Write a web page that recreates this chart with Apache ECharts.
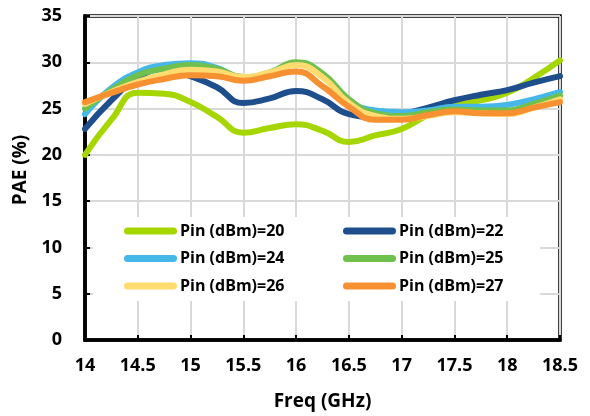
<!DOCTYPE html>
<html>
<head>
<meta charset="utf-8">
<script src="https://cdn.jsdelivr.net/npm/echarts@6/dist/echarts.min.js"></script>
<style>html,body{margin:0;padding:0;background:#fff}#c{width:590px;height:416px}</style>
</head>
<body>
<div id="c"></div>
<script>
var freq = [14, 14.25, 14.5, 14.75, 15, 15.25, 15.5, 15.75, 16, 16.25, 16.5, 16.75, 17, 17.25, 17.5, 17.75, 18, 18.25, 18.5];
var seriesNames = ['Pin (dBm)=20', 'Pin (dBm)=22', 'Pin (dBm)=24', 'Pin (dBm)=25', 'Pin (dBm)=26', 'Pin (dBm)=27'];
var pin20 = [20.0, 23.8, 26.7, 26.6, 25.7, 24.1, 22.4, 22.9, 23.3, 22.6, 21.4, 22.1, 22.8, 24.3, 25.4, 25.9, 26.7, 28.3, 30.2];
var pin22 = [22.8, 25.9, 28.3, 29.3, 28.5, 27.3, 25.6, 26.1, 26.9, 26.0, 24.4, 24.1, 24.4, 25.1, 25.9, 26.5, 27.0, 27.8, 28.5];
var pin24 = [24.4, 27.2, 28.9, 29.7, 29.9, 29.4, 28.3, 28.8, 29.8, 28.6, 25.8, 24.8, 24.6, 24.8, 25.2, 25.2, 25.4, 26.0, 26.8];
var pin25 = [25.0, 27.0, 28.6, 29.3, 29.7, 29.3, 28.4, 28.9, 30.0, 28.8, 26.0, 24.5, 24.2, 24.6, 24.9, 24.8, 24.8, 25.5, 26.4];
var pin26 = [25.5, 26.8, 27.9, 28.7, 29.2, 29.0, 28.4, 28.9, 29.7, 28.4, 25.6, 24.2, 23.9, 24.2, 24.6, 24.5, 24.4, 25.1, 26.0];
var pin27 = [25.7, 26.7, 27.6, 28.2, 28.6, 28.5, 28.0, 28.5, 29.0, 27.4, 25.2, 23.8, 23.8, 24.3, 24.7, 24.5, 24.5, 25.1, 25.7];
var colors = ['#a6d600', '#1f4e8c', '#45b7e8', '#70c04e', '#ffdb70', '#f69030'];
var allValues = [pin20, pin22, pin24, pin25, pin26, pin27];

var font = '"Open Sans", "Noto Sans", sans-serif';
var series = allValues.map(function (vals, i) {
  return {
    name: seriesNames[i],
    type: 'line',
    smooth: 0.5,
    showSymbol: false,
    symbol: 'none',
    data: freq.map(function (f, j) { return [f, vals[j]]; }),
    lineStyle: { color: colors[i], width: 6, cap: 'round', join: 'round' },
    itemStyle: { color: colors[i] },
    z: 2 + i
  };
});

function legendCfg(names, left) {
  return {
    data: names,
    orient: 'vertical',
    left: left,
    top: 222,
    padding: 0,
    itemGap: 9.5,
    itemWidth: 53,
    itemHeight: 7,
    icon: 'path://M3.5,0 L49.5,0 A3.5,3.5 0 0 1 49.5,7 L3.5,7 A3.5,3.5 0 0 1 3.5,0 Z',
    textStyle: { fontFamily: font, fontWeight: 'bold', fontSize: 16, color: '#000', lineHeight: 18, padding: [0, 0, 0, -2] },
    z: 10
  };
}

var chart = echarts.init(document.getElementById('c'), null, { renderer: 'canvas' });
chart.setOption({
  animation: false,
  backgroundColor: '#fff',
  grid: { left: 85, right: 30, top: 16, bottom: 75, show: true, borderColor: '#000', borderWidth: 3.5, backgroundColor: 'transparent' },
  graphic: [{
    type: 'rect', left: 93, top: 217, shape: { width: 447, height: 84 },
    style: { fill: '#fff' }, z: 1
  }],
  legend: [
    legendCfg([seriesNames[0], seriesNames[2], seriesNames[4]], 124),
    legendCfg([seriesNames[1], seriesNames[3], seriesNames[5]], 343)
  ],
  xAxis: {
    type: 'value', min: 14, max: 18.5, interval: 0.5,
    name: 'Freq (GHz)', nameLocation: 'middle', nameGap: 52,
    nameTextStyle: { fontFamily: font, fontWeight: 'bold', fontSize: 19, color: '#000' },
    axisLine: { show: true, lineStyle: { color: '#000', width: 3.5 } },
    axisTick: { show: true, inside: true, length: 5, lineStyle: { color: '#000', width: 2 } },
    axisLabel: { margin: 17, fontFamily: font, fontWeight: 'bold', fontSize: 18, color: '#000' },
    splitLine: { show: true, lineStyle: { color: '#d9d9d9', width: 2 } }
  },
  yAxis: {
    type: 'value', min: 0, max: 35, interval: 5,
    name: 'PAE (%)', nameLocation: 'middle', nameGap: 47, nameRotate: 90,
    nameTextStyle: { fontFamily: font, fontWeight: 'bold', fontSize: 19, color: '#000', padding: [0, 0, 0, 16] },
    axisLine: { show: true, lineStyle: { color: '#000', width: 3.5 } },
    axisTick: { show: true, inside: true, length: 5, lineStyle: { color: '#000', width: 2 } },
    axisLabel: { margin: 23, fontFamily: font, fontWeight: 'bold', fontSize: 18, color: '#000' },
    splitLine: { show: true, lineStyle: { color: '#d9d9d9', width: 2 } }
  },
  series: series
});
</script>
</body>
</html>
